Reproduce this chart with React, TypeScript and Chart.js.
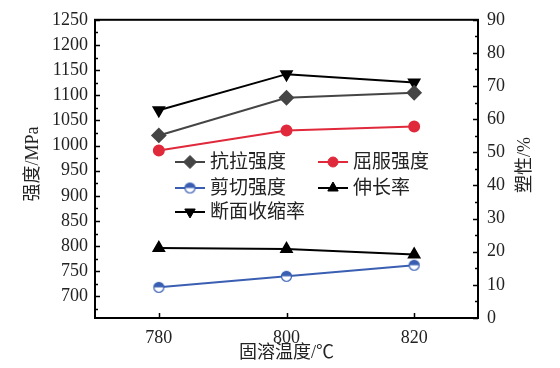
import React, { useEffect, useRef } from 'react';
import { Chart, registerables } from 'chart.js';
import { drawPoint } from 'chart.js/helpers';

Chart.register(...registerables);

const temps = [780, 800, 820];
const tensile = [1020, 1095, 1105];
const yieldStrength = [990, 1030, 1038];
const shear = [718, 740, 762];
const elongation = [21.1, 20.8, 19.2];
const reduction = [62.7, 73.6, 71.1];

const seriesLabels = ['抗拉强度', '屈服强度', '剪切强度', '伸长率', '断面收缩率'];
const leftTicks = [700, 750, 800, 850, 900, 950, 1000, 1050, 1100, 1150, 1200, 1250];
const leftMinor = [675, 725, 775, 825, 875, 925, 975, 1025, 1075, 1125, 1175, 1225];
const rightTicks = [0, 10, 20, 30, 40, 50, 60, 70, 80, 90];
const rightMinor = [5, 15, 25, 35, 45, 55, 65, 75, 85];
const xTicks = [780, 800, 820];

const leftTitle = '强度/MPa';
const rightTitle = '塑性/%';
const xTitle = '固溶温度/℃';

const SERIF = '"Liberation Serif"';
const TICK_FONT = { family: SERIF, size: 18, style: 'normal', weight: 'normal' };
const CJK_FONT = '"Liberation Serif", "Noto Sans CJK SC"';

function makeHalfCircle(color: string, r: number) {
  const c = document.createElement('canvas');
  const s = r * 2 + 3;
  c.width = s;
  c.height = s;
  const ctx = c.getContext('2d')!;
  const cx = s / 2, cy = s / 2;
  ctx.beginPath();
  ctx.arc(cx, cy, r, 0, Math.PI * 2);
  ctx.fillStyle = '#ffffff';
  ctx.fill();
  ctx.beginPath();
  ctx.arc(cx, cy, r, Math.PI, Math.PI * 2);
  ctx.closePath();
  ctx.fillStyle = color;
  ctx.fill();
  ctx.beginPath();
  ctx.arc(cx, cy, r, 0, Math.PI * 2);
  ctx.lineWidth = 1.2;
  ctx.strokeStyle = color;
  ctx.stroke();
  return c;
}

const pts = (ys: number[]) => temps.map((t, i) => ({ x: t, y: ys[i] }));

export default function App() {
  const ref = useRef<HTMLCanvasElement>(null);

  useEffect(() => {
    const canvas = ref.current!;
    const blue = '#3a5fb2';
    const half = makeHalfCircle(blue, 5);

    const framePlugin = {
      id: 'frame',
      afterDraw(chart: any) {
        const { ctx, chartArea: a, scales } = chart;
        ctx.save();
        ctx.strokeStyle = '#000';
        ctx.lineWidth = 1.5;
        const yL = scales.y, yR = scales.y1, x = scales.x;
        ctx.beginPath();
        leftTicks.forEach(v => { const p = Math.round(yL.getPixelForValue(v)) + 0.5; ctx.moveTo(a.left, p); ctx.lineTo(a.left + 5, p); });
        leftMinor.forEach(v => { const p = Math.round(yL.getPixelForValue(v)) + 0.5; ctx.moveTo(a.left, p); ctx.lineTo(a.left + 3, p); });
        rightTicks.forEach(v => { const p = Math.round(yR.getPixelForValue(v)) + 0.5; ctx.moveTo(a.right, p); ctx.lineTo(a.right - 5, p); });
        rightMinor.forEach(v => { const p = Math.round(yR.getPixelForValue(v)) + 0.5; ctx.moveTo(a.right, p); ctx.lineTo(a.right - 3, p); });
        xTicks.forEach(v => { const p = Math.round(x.getPixelForValue(v)) + 0.5; ctx.moveTo(p, a.bottom); ctx.lineTo(p, a.bottom - 5); });
        ctx.stroke();
        ctx.lineWidth = 2;
        ctx.strokeRect(a.left, a.top, a.right - a.left, a.bottom - a.top);

        ctx.fillStyle = '#222';
        ctx.font = `18px ${CJK_FONT}`;
        ctx.textAlign = 'center';
        ctx.textBaseline = 'middle';
        ctx.save();
        ctx.translate(33, 164);
        ctx.rotate(-Math.PI / 2);
        ctx.fillText(leftTitle, 0, 0);
        ctx.restore();
        ctx.save();
        ctx.translate(525, 165);
        ctx.rotate(-Math.PI / 2);
        ctx.fillText(rightTitle, 0, 0);
        ctx.restore();
        ctx.fillText(xTitle, (a.left + a.right) / 2, 353);

        const pos = [
          { x: 175, y: 162 },
          { x: 318, y: 162 },
          { x: 175, y: 188 },
          { x: 318, y: 188 },
          { x: 175, y: 212 },
        ];
        ctx.font = `19px ${CJK_FONT}`;
        ctx.textAlign = 'left';
        chart.data.datasets.forEach((ds: any, i: number) => {
          const p = pos[i];
          ctx.beginPath();
          ctx.strokeStyle = ds.borderColor;
          ctx.lineWidth = 2;
          ctx.moveTo(p.x, p.y);
          ctx.lineTo(p.x + 30, p.y);
          ctx.stroke();
          const cx = p.x + 15;
          if (ds.pointStyle instanceof HTMLCanvasElement) {
            ctx.drawImage(ds.pointStyle, cx - ds.pointStyle.width / 2, p.y - ds.pointStyle.height / 2);
          } else {
            ctx.fillStyle = ds.pointBackgroundColor;
            ctx.strokeStyle = ds.pointBorderColor;
            ctx.lineWidth = 1;
            drawPoint(ctx, { pointStyle: ds.pointStyle, radius: ds.pointRadius, rotation: ds.pointRotation || 0, borderWidth: 1 }, cx, p.y);
          }
          ctx.fillStyle = '#222';
          ctx.fillText(seriesLabels[i], p.x + 35, p.y + 1);
        });
        ctx.restore();
      },
    };

    const tickCb = (v: any) => String(v);

    const chart = new Chart(canvas, {
      type: 'line',
      data: {
        datasets: [
          {
            label: seriesLabels[0], data: pts(tensile), yAxisID: 'y',
            borderColor: '#454545', backgroundColor: '#454545',
            pointBackgroundColor: '#454545', pointBorderColor: '#454545',
            pointStyle: 'rectRot', pointRadius: 6.5, borderWidth: 2,
          },
          {
            label: seriesLabels[1], data: pts(yieldStrength), yAxisID: 'y',
            borderColor: '#e0293b', backgroundColor: '#e0293b',
            pointBackgroundColor: '#e0293b', pointBorderColor: '#e0293b',
            pointStyle: 'circle', pointRadius: 5, borderWidth: 2,
          },
          {
            label: seriesLabels[2], data: pts(shear), yAxisID: 'y',
            borderColor: blue, backgroundColor: blue,
            pointBackgroundColor: blue, pointBorderColor: blue,
            pointStyle: half, pointRadius: 5, borderWidth: 2,
          },
          {
            label: seriesLabels[3], data: pts(elongation), yAxisID: 'y1',
            borderColor: '#000', backgroundColor: '#000',
            pointBackgroundColor: '#000', pointBorderColor: '#000',
            pointStyle: 'triangle', pointRadius: 6, borderWidth: 2,
          },
          {
            label: seriesLabels[4], data: pts(reduction), yAxisID: 'y1',
            borderColor: '#000', backgroundColor: '#000',
            pointBackgroundColor: '#000', pointBorderColor: '#000',
            pointStyle: 'triangle', pointRotation: 180, pointRadius: 6, borderWidth: 2,
          },
        ] as any,
      },
      options: {
        responsive: false,
        animation: false,
        devicePixelRatio: 1,
        font: { family: SERIF, size: 18 },
        layout: { padding: { top: 13, left: 0, right: 0, bottom: 0 } },
        plugins: { legend: { display: false }, tooltip: { enabled: false } },
        scales: {
          x: {
            type: 'linear', min: 770, max: 830,
            afterBuildTicks: (s: any) => { s.ticks = xTicks.map(v => ({ value: v })); },
            afterFit: (s: any) => { s.height = 50; },
            grid: { display: false, drawTicks: false },
            border: { display: false },
            ticks: { font: TICK_FONT, color: '#222', padding: 9, maxRotation: 0, callback: tickCb },
          },
          y: {
            type: 'linear', position: 'left', min: 657, max: 1250,
            afterBuildTicks: (s: any) => { s.ticks = leftTicks.map(v => ({ value: v })); },
            afterFit: (s: any) => { s.width = 95; },
            grid: { display: false, drawTicks: false },
            border: { display: false },
            ticks: { font: TICK_FONT, color: '#222', padding: 7, callback: tickCb },
          },
          y1: {
            type: 'linear', position: 'right', min: 0, max: 90,
            afterBuildTicks: (s: any) => { s.ticks = rightTicks.map(v => ({ value: v })); },
            afterFit: (s: any) => { s.width = 82; },
            grid: { display: false, drawTicks: false },
            border: { display: false },
            ticks: { font: TICK_FONT, color: '#222', padding: 9, callback: tickCb },
          },
        },
      } as any,
      plugins: [framePlugin],
    });
    let alive = true;
    const redraw = () => { if (alive) { try { chart.update(); } catch (e) {} } };
    const fs = (document as any).fonts;
    if (fs) {
      Promise.all([
        fs.load('18px "Liberation Serif"', '0123456789/MPa%'),
        fs.load('18px "Noto Sans CJK SC"', seriesLabels.join('') + leftTitle + rightTitle + xTitle),
      ]).then(redraw, redraw);
      fs.ready.then(redraw, redraw);
    }
    requestAnimationFrame(redraw);
    const t1 = setTimeout(redraw, 30);
    const t2 = setTimeout(redraw, 150);
    return () => { alive = false; clearTimeout(t1); clearTimeout(t2); chart.destroy(); };
  }, []);

  return (
    <div style={{ position: 'fixed', left: 0, top: 0, width: 560, height: 368, background: '#fff' }}>
      <span aria-hidden="true" style={{ position: 'absolute', left: -2000, top: 0, fontFamily: '"Liberation Serif"', fontSize: 18 }}>0</span>
      <canvas ref={ref} width={560} height={368} style={{ width: 560, height: 368, display: 'block' }} />
    </div>
  );
}
